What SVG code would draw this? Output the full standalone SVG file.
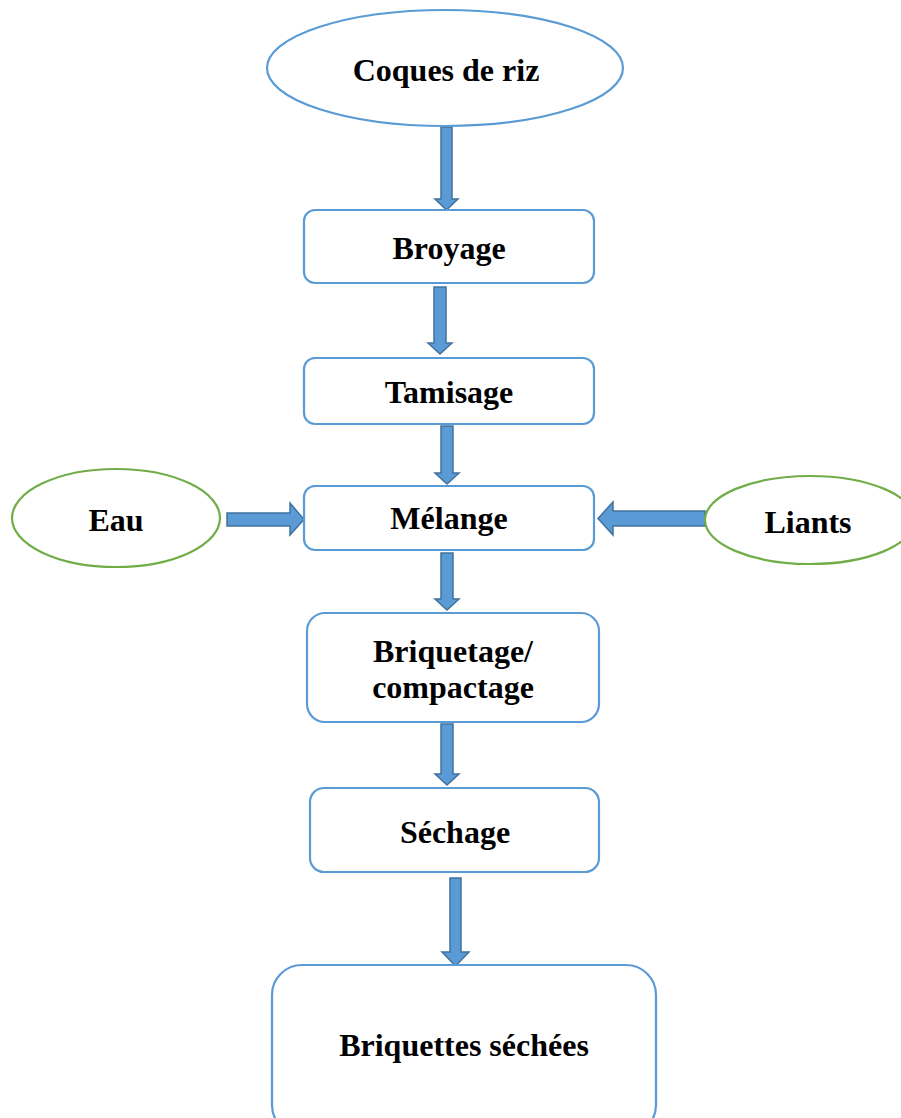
<svg xmlns="http://www.w3.org/2000/svg" width="901" height="1118" viewBox="0 0 901 1118">
  <style>
    .box { fill: #ffffff; stroke: #5b9bd5; stroke-width: 2.2; }
    .input { fill: #ffffff; stroke: #70ad47; stroke-width: 2.2; }
    .arrow { fill: #5b9bd5; stroke: #41719c; stroke-width: 1.5; stroke-linejoin: miter; }
    .label { font-family: "Liberation Serif", "Times New Roman", serif; font-weight: bold; font-size: 32px; fill: #000000; text-anchor: middle; }
  </style>

  <rect width="901" height="1118" fill="#ffffff"/>

  <g id="connectors">
    <!-- Coques de riz -> Broyage -->
    <polygon class="arrow" points="441,127 452,127 452,199 458,199 446.5,210 435,199 441,199"/>
    <!-- Broyage -> Tamisage -->
    <polygon class="arrow" points="434,287 446,287 446,343 452,343 440,354 428,343 434,343"/>
    <!-- Tamisage -> Mélange -->
    <polygon class="arrow" points="441,426 453,426 453,473 459,473 447,484 435,473 441,473"/>
    <!-- Eau -> Mélange -->
    <polygon class="arrow" points="227,513 290,513 290,503 304,519.5 290,535 290,526 227,526"/>
    <!-- Liants -> Mélange -->
    <polygon class="arrow" points="705,511 613,511 613,502 598,518.5 613,535 613,526 705,526"/>
    <!-- Mélange -> Briquetage -->
    <polygon class="arrow" points="441,553 453,553 453,599 459,599 447,610 435,599 441,599"/>
    <!-- Briquetage -> Séchage -->
    <polygon class="arrow" points="441,724 453,724 453,774 459,774 447,785 435,774 441,774"/>
    <!-- Séchage -> Briquettes séchées -->
    <polygon class="arrow" points="450,878 461,878 461,952 469,952 455.5,966 442,952 450,952"/>
  </g>

  <g id="node-coques">
    <ellipse class="box" cx="445" cy="68" rx="178" ry="58"/>
    <text class="label" x="446" y="81">Coques de riz</text>
  </g>

  <g id="node-broyage">
    <rect class="box" x="304" y="210" width="290" height="73" rx="11"/>
    <text class="label" x="449" y="259">Broyage</text>
  </g>

  <g id="node-tamisage">
    <rect class="box" x="304" y="358" width="290" height="66" rx="11"/>
    <text class="label" x="449" y="403">Tamisage</text>
  </g>

  <g id="node-melange">
    <rect class="box" x="304" y="486" width="290" height="64" rx="11"/>
    <text class="label" x="449" y="529">Mélange</text>
  </g>

  <g id="node-eau">
    <ellipse class="input" cx="116" cy="518" rx="104" ry="49"/>
    <text class="label" x="116" y="531">Eau</text>
  </g>

  <g id="node-liants">
    <ellipse class="input" cx="810" cy="520" rx="105" ry="44"/>
    <text class="label" x="808" y="533">Liants</text>
  </g>

  <g id="node-briquetage">
    <rect class="box" x="307" y="613" width="292" height="109" rx="18"/>
    <text class="label" x="453" y="662">Briquetage/</text>
    <text class="label" x="453" y="698">compactage</text>
  </g>

  <g id="node-sechage">
    <rect class="box" x="310" y="788" width="289" height="84" rx="14"/>
    <text class="label" x="455" y="843">Séchage</text>
  </g>

  <g id="node-briquettes">
    <rect class="box" x="272" y="965" width="384" height="170" rx="30"/>
    <text class="label" x="464" y="1056">Briquettes séchées</text>
  </g>
</svg>
